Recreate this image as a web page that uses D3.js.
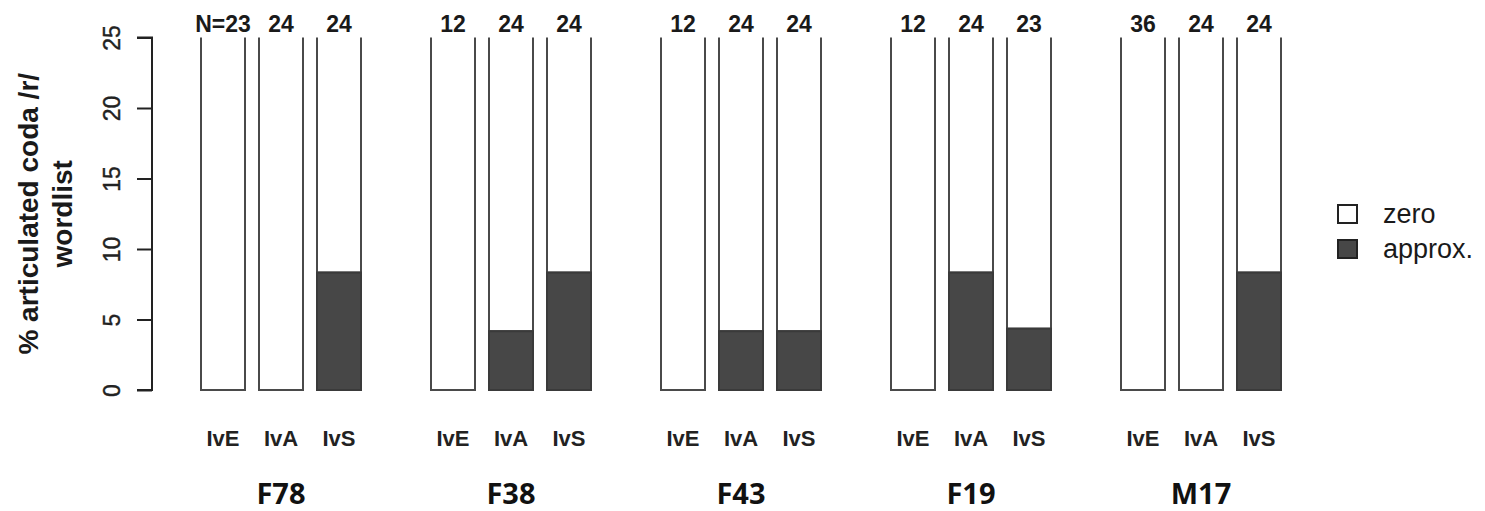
<!DOCTYPE html>
<html>
<head>
<meta charset="utf-8">
<script src="https://cdn.jsdelivr.net/npm/d3@7"></script>
<style>
  html, body { margin: 0; padding: 0; background: #fff; }
  svg { display: block; }
</style>
</head>
<body>
<svg id="chart" width="1485" height="511"></svg>
<script>
// Speakers and conditions
const speakers = ["F78", "F38", "F43", "F19", "M17"];
const conditions = ["IvE", "IvA", "IvS"];

// Token counts per speaker x condition
const counts = [
  [23, 24, 24],
  [12, 24, 24],
  [12, 24, 24],
  [12, 24, 23],
  [36, 24, 24]
];

// % approximant realisations per speaker x condition
const approxPct = [
  [0, 0, 8.33],
  [0, 4.17, 8.33],
  [0, 4.17, 4.17],
  [0, 8.33, 4.35],
  [0, 0, 8.33]
];

// % zero realisations (stacked above approx.)
const zeroPct = [
  [100, 100, 91.67],
  [100, 95.83, 91.67],
  [100, 95.83, 95.83],
  [100, 91.67, 95.65],
  [100, 100, 91.67]
];

const yTicks = [0, 5, 10, 15, 20, 25];
const legendLabels = ["zero", "approx."];
const fills = { zero: "#ffffff", approx: "#474747" };

const svg = d3.select("#chart");

const y = d3.scaleLinear().domain([0, 25]).range([390, 37.5]);
const xGroup = d3.scaleBand().domain(speakers).range([166, 1316]);
const xCond = d3.scaleBand().domain(conditions).range([35, 195]).paddingInner(14 / 58);

// Clip region: the plot area ends at 25 %
svg.append("defs").append("clipPath").attr("id", "plotClip")
  .append("rect")
  .attr("x", 0).attr("y", y(25))
  .attr("width", 1485).attr("height", y(0) - y(25) + 5);

const plot = svg.append("g").attr("clip-path", "url(#plotClip)");

const cells = [];
speakers.forEach((s, i) => conditions.forEach((c, j) => {
  cells.push({ s, c, n: counts[i][j], approx: approxPct[i][j], zero: zeroPct[i][j] });
}));

const bx = d => xGroup(d.s) + xCond(d.c);

// zero segment
plot.selectAll("rect.zero").data(cells).join("rect")
  .attr("class", "zero")
  .attr("x", bx)
  .attr("width", xCond.bandwidth())
  .attr("y", d => y(d.approx + d.zero))
  .attr("height", d => y(d.approx) - y(d.approx + d.zero))
  .attr("fill", fills.zero)
  .attr("stroke", "#4a4a4a")
  .attr("stroke-width", 2);

// approx. segment
plot.selectAll("rect.approx").data(cells.filter(d => d.approx > 0)).join("rect")
  .attr("class", "approx")
  .attr("x", bx)
  .attr("width", xCond.bandwidth())
  .attr("y", d => y(d.approx))
  .attr("height", d => y(0) - y(d.approx))
  .attr("fill", fills.approx)
  .attr("stroke", "#3a3a3a")
  .attr("stroke-width", 2);

// Y axis
const yAxis = d3.axisLeft(y).tickValues(yTicks).tickSize(15).tickPadding(0).tickFormat(d3.format("d"));
const gy = svg.append("g").attr("transform", "translate(152,0)").call(yAxis);
gy.select(".domain").attr("stroke", "#222").attr("stroke-width", 2).attr("d", `M-15,${y(25)}H0V${y(0)}H-15`);
gy.selectAll(".tick line").attr("stroke", "#222").attr("stroke-width", 2);
gy.selectAll(".tick text")
  .attr("x", null).attr("dy", null)
  .attr("text-anchor", "middle")
  .attr("transform", "translate(-32,0) rotate(-90)")
  .attr("font-family", "Liberation Sans, Arial, sans-serif")
  .attr("font-size", 23)
  .attr("stroke", "#222").attr("stroke-width", 0.4)
  .attr("fill", "#222");

// Y axis title
const yTitle = svg.append("text")
  .attr("transform", `translate(0,${(y(0) + y(25)) / 2}) rotate(-90)`)
  .attr("text-anchor", "middle")
  .attr("font-family", "Liberation Sans, Arial, sans-serif")
  .attr("font-weight", "bold")
  .attr("font-size", 28)
  .attr("fill", "#1a1a1a");
yTitle.append("tspan").attr("x", 0).attr("y", 38).text("% articulated coda /r/");
yTitle.append("tspan").attr("x", 0).attr("y", 72).text("wordlist");

// Token counts above bars
svg.selectAll("text.count").data(cells).join("text")
  .attr("class", "count")
  .attr("x", d => bx(d) + xCond.bandwidth() / 2)
  .attr("y", 32)
  .attr("text-anchor", "middle")
  .attr("font-family", "Liberation Sans, Arial, sans-serif")
  .attr("font-weight", "bold")
  .attr("font-size", 23)
  .attr("fill", "#1a1a1a")
  .text((d, i) => i === 0 ? `N=${d.n}` : d.n);

// Condition labels
svg.selectAll("text.cond").data(cells).join("text")
  .attr("class", "cond")
  .attr("x", d => bx(d) + xCond.bandwidth() / 2)
  .attr("y", 446)
  .attr("text-anchor", "middle")
  .attr("font-family", "Liberation Sans, Arial, sans-serif")
  .attr("font-weight", "bold")
  .attr("font-size", 22)
  .attr("fill", "#222")
  .text(d => d.c);

// Speaker labels
svg.selectAll("text.spk").data(speakers).join("text")
  .attr("class", "spk")
  .attr("x", s => xGroup(s) + 115)
  .attr("y", 504)
  .attr("text-anchor", "middle")
  .attr("font-family", "Open Sans, sans-serif")
  .attr("font-weight", "bold")
  .attr("font-size", 29)
  .attr("fill", "#111")
  .text(s => s);

// Legend
const legend = svg.append("g").attr("transform", "translate(1338,205)");
const legItems = legend.selectAll("g").data(legendLabels).join("g")
  .attr("transform", (d, i) => `translate(0,${i * 35})`);
legItems.append("rect")
  .attr("x", 0).attr("y", 0).attr("width", 19).attr("height", 18)
  .attr("fill", (d, i) => i === 0 ? fills.zero : fills.approx)
  .attr("stroke", "#222").attr("stroke-width", 2);
legItems.append("text")
  .attr("x", 45).attr("y", 18)
  .attr("font-family", "Liberation Sans, Arial, sans-serif")
  .attr("font-size", 27)
  .attr("fill", "#1a1a1a")
  .text(d => d);
</script>
</body>
</html>
